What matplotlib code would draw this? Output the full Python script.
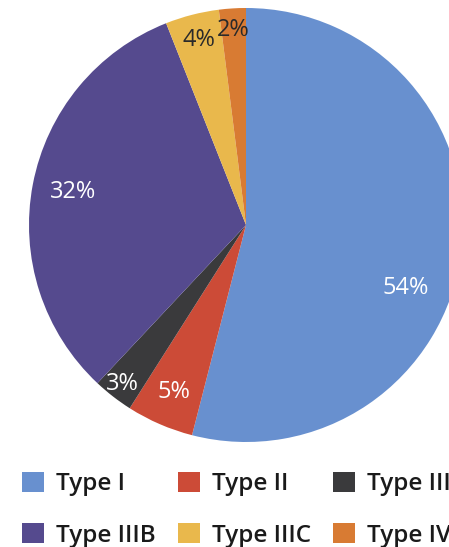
import numpy as np
import matplotlib
matplotlib.use("Agg")
import matplotlib.pyplot as plt
from matplotlib.patches import Rectangle

labels = ["Type I", "Type II", "Type III", "Type IIIB", "Type IIIC", "Type IV"]
shares = [54, 5, 3, 32, 4, 2]
colors = ["#6890CF", "#CC4B37", "#3A3A3C", "#554A8E", "#E9B84C", "#D87B33"]
pct_colors = ["white", "white", "white", "white", "#2a2a2a", "#2a2a2a"]
pct_radius = [0.80, 0.84, 0.93, 0.81, 0.88, 0.90]

W, H = 449, 547
fig = plt.figure(figsize=(W / 100, H / 100), dpi=100)
ax = fig.add_axes([0, 0, 1, 1])

FONT = "Open Sans"
cx, cy, R = 246, H - 225, 217

wedges, _ = ax.pie(shares, colors=colors, startangle=90, counterclock=False,
                   radius=R, center=(cx, cy),
                   wedgeprops=dict(linewidth=0))
ax.set_aspect("auto")
ax.set_xlim(0, W)
ax.set_ylim(0, H)
ax.axis("off")

# percentage labels placed along each wedge's bisector
for i, w in enumerate(wedges):
    mid = np.deg2rad((w.theta1 + w.theta2) / 2)
    r = R * pct_radius[i]
    if labels[i] == "Type I":
        mid = np.deg2rad(-21.6)
        r = R * 0.79
    ax.text(cx + r * np.cos(mid), cy + r * np.sin(mid), f"{shares[i]}%",
            ha="center", va="center", fontsize=17, color=pct_colors[i],
            family=FONT, fontweight="medium")

# legend: two rows of three entries
col_x = [22, 178, 333]
row_y = [482, 533]
for i, (lab, col) in enumerate(zip(labels, colors)):
    r, c = divmod(i, 3)
    x0, yc = col_x[c], H - row_y[r]
    ax.add_patch(Rectangle((x0, yc - 10), 22, 20, facecolor=col, edgecolor="none"))
    ax.text(x0 + 34, yc - 8.5, lab, ha="left", va="baseline", fontsize=17.5,
            color="#1a1a1a", family=FONT, fontweight="semibold")

fig.savefig("out.png", dpi=100)
